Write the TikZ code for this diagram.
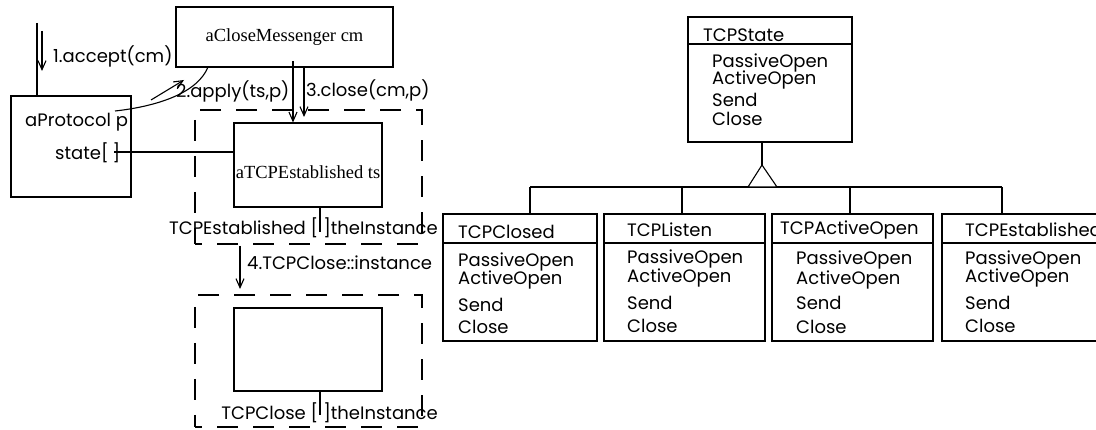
\documentclass[tikz,border=0pt]{standalone}
\usepackage{fontspec}
\setmainfont{Liberation Serif}
\newfontfamily\gothic{Poppins}
\usetikzlibrary{arrows.meta}
\begin{document}
\begin{tikzpicture}[x=1pt,y=-1pt,
  ln/.style={line width=1.1pt},
  obox/.style={draw, line width=1.1pt, inner sep=0pt},
  dbox/.style={draw, line width=1.1pt, inner sep=0pt, dash pattern=on 21pt off 15pt, dash phase=14pt},
  sl/.style={font=\gothic\fontsize{18}{20}\selectfont, inner sep=0pt, anchor=west},
  sr/.style={font=\fontsize{18.5}{20}\selectfont, inner sep=0pt},
  arr/.style={ln, -{Straight Barb[length=9pt,width=8pt,line width=1.1pt]}},
  tri/.style={draw, line width=1.1pt, fill=white}
]
\useasboundingbox (0,0) rectangle (1096,430);
\clip (0,0) rectangle (1096,430);

% ---------- collaboration part ----------
\node[obox, minimum width=120pt, minimum height=101pt] (p) at (71,146.5) {};
\node[sl] (ptxt) at (25,122) {aProtocol p};
\node[sl] (pstate) at (55,153) {state[\kern4pt]};

\node[obox, minimum width=217pt, minimum height=60pt, sr] (cm) at (284.5,37) {aCloseMessenger cm};

\node[dbox, minimum width=227pt, minimum height=134pt] (d1) at (308.5,177) {};
\node[obox, minimum width=148pt, minimum height=84pt] (ts) at (308,165) {};
\node[sr] (tstxt) at (308,172) {aTCPEstablished ts};
\node[sl, anchor=east] (tslbl) at (438,228) {TCPEstablished [\kern5pt]theInstance};

\node[dbox, minimum width=227pt, minimum height=132pt] (d2) at (308.5,361) {};
\node[obox, minimum width=148pt, minimum height=83pt] (tc) at (308,349.5) {};
\node[sl, anchor=east] (tclbl) at (438,413) {TCPClose [\kern5pt]theInstance};

% incoming link and message 1
\coordinate (in0) at (37,23);
\draw[ln] (in0) -- (p.north west -| in0);
\coordinate (a1s) at (42,31);
\coordinate (a1e) at (42,71);
\draw[arr] (a1s) -- (a1e);
\node[sl] (m1) at (53,56) {1.accept(cm)};

% link protocol -> messenger, message 2
\coordinate (c1) at (115,111);
\coordinate (c2) at (208,67);
\draw[ln] (c1) .. controls (160,106) and (198,92) .. (c2);
\coordinate (a2s) at (151,100);
\coordinate (a2e) at (184,80);
\draw[arr] (a2s) -- (a2e);
\node[sl] (m2) at (176,91) {2.apply(ts,p)};

% link messenger -> ts, message 3
\coordinate (l3) at (293,61);
\draw[arr] (l3) -- (l3 |- ts.north);
\coordinate (a3s) at (304,67);
\coordinate (a3e) at (304,117);
\draw[arr] (a3s) -- (a3e);
\node[sl] (m3) at (306,90) {3.close(cm,p)};

% state link
\coordinate (st) at (114,152);
\draw[ln] (st) -- (st -| ts.west);

% ticks
\coordinate (t1) at (320,207);
\draw[ln] (t1) -- ++(0,25);
\coordinate (t2) at (320,391);
\draw[ln] (t2) -- ++(0,24);

% message 4
\coordinate (a4s) at (240,246);
\coordinate (a4e) at (240,289);
\draw[arr] (a4s) -- (a4e);
\node[sl] (m4) at (247,263) {4.TCPClose::instance};

% ---------- class diagram ----------
\node[obox, minimum width=164pt, minimum height=125pt] (st0) at (770,79.5) {};
\draw[ln] (688,44) -- (852,44);
\node[sl] (st0t) at (703,35) {TCPState};
\node[sl] at (712,63) {PassiveOpen};
\node[sl] at (712,80) {ActiveOpen};
\node[sl] at (712,100) {Send};
\node[sl] at (712,119) {Close};

\coordinate (apex) at (762,165);
\draw[ln] (st0.south -| apex) -- (apex);
\draw[ln] (530,187) -- (1002,187);
\draw[tri] (apex) -- (748,187) -- (777,187) -- cycle;

% subclasses
\node[obox, minimum width=154pt, minimum height=127pt] (c1b) at (520,277.5) {};
\node[obox, minimum width=161pt, minimum height=127pt] (c2b) at (684.5,277.5) {};
\node[obox, minimum width=161pt, minimum height=127pt] (c3b) at (852.5,277.5) {};
\node[obox, minimum width=170pt, minimum height=127pt] (c4b) at (1027,277.5) {};
\foreach \b in {c1b,c2b,c3b,c4b}{
  \draw[ln] (\b.west |- 0,243) -- (\b.east |- 0,243);
}
\draw[ln] (530,187) -- (530,214);
\draw[ln] (682,187) -- (682,214);
\draw[ln] (850,187) -- (850,214);
\draw[ln] (1002,187) -- (1002,214);

\node[sl] at (458,232) {TCPClosed};
\node[sl] at (458,262) {PassiveOpen};
\node[sl] at (458,280) {ActiveOpen};
\node[sl] at (458,305) {Send};
\node[sl] at (458,327) {Close};

\node[sl] at (627,230) {TCPListen};
\node[sl] at (627,259) {PassiveOpen};
\node[sl] at (627,278) {ActiveOpen};
\node[sl] at (627,303) {Send};
\node[sl] at (627,326) {Close};

\node[sl] at (780,230) {TCPActiveOpen};
\node[sl] at (796,260) {PassiveOpen};
\node[sl] at (796,280) {ActiveOpen};
\node[sl] at (796,303) {Send};
\node[sl] at (796,327) {Close};

\node[sl] at (965,230) {TCPEstablished};
\node[sl] at (965,260) {PassiveOpen};
\node[sl] at (965,278) {ActiveOpen};
\node[sl] at (965,303) {Send};
\node[sl] at (965,326) {Close};
\end{tikzpicture}
\end{document}
